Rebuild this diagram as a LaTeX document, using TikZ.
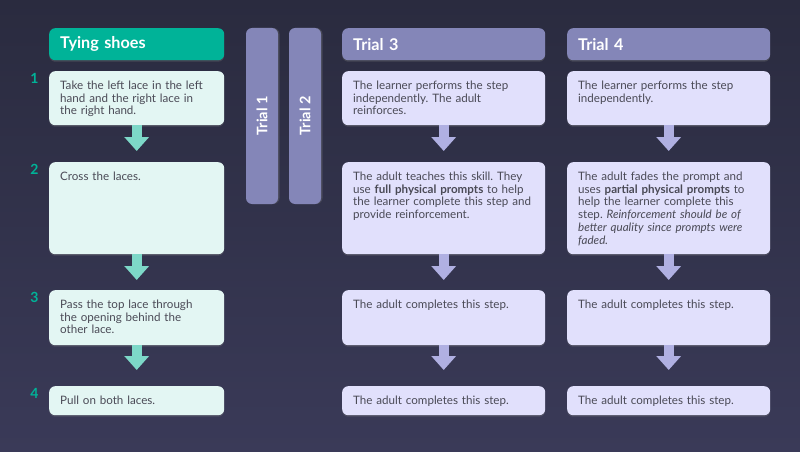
\documentclass[tikz,border=0pt]{standalone}
\usepackage{fontspec}
\setmainfont{Lato}
\usetikzlibrary{arrows.meta,shadows}

\definecolor{bgtop}{HTML}{2A2B3F}
\definecolor{bgbot}{HTML}{3A3A58}
\definecolor{tealdark}{HTML}{00B398}
\definecolor{tealpale}{HTML}{E3F6F3}
\definecolor{tealarrow}{HTML}{7DD8C8}
\definecolor{lilac}{HTML}{8486B8}
\definecolor{lilacpale}{HTML}{E1E0FC}
\definecolor{lilacarrow}{HTML}{B0B0E2}
\definecolor{txt}{HTML}{4A4A56}

\frenchspacing
\begin{document}
\begin{tikzpicture}[x=1pt, y=-1pt,
    box/.style={rounded corners=6pt, anchor=north west, align=left,
      inner xsep=11pt, inner ysep=8pt, text height=10pt, text=txt,
      font=\fontsize{11.6}{12.8}\selectfont,
      drop shadow={opacity=0.3, shadow xshift=0pt, shadow yshift=-1.5pt}},
    tealbox/.style={box, fill=tealpale, text width=153pt},
    lilacbox/.style={box, fill=lilacpale, text width=181pt},
    header/.style={rounded corners=6pt, anchor=north west, align=left,
      inner xsep=11pt, inner ysep=0pt, minimum height=32pt, text=white,
      font=\fontsize{16.2}{18}\selectfont\bfseries,
      drop shadow={opacity=0.3, shadow xshift=0pt, shadow yshift=-1.5pt}},
    trialbar/.style={rotate=90, rounded corners=6pt, fill=lilac, text=white,
      minimum width=176pt, minimum height=32pt, inner sep=0pt,
      font=\fontsize{14.5}{16}\selectfont\bfseries,
      drop shadow={opacity=0.3, shadow xshift=1.5pt, shadow yshift=0pt}},
    num/.style={anchor=base, text=tealdark, font=\fontsize{14}{16}\selectfont\bfseries},
    tealarr/.style={draw=tealarrow, line width=10pt, -{Triangle[width=24pt,length=14pt]}},
    lilacarr/.style={draw=lilacarrow, line width=10pt, -{Triangle[width=24pt,length=14pt]}}]

  % Background
  \shade[top color=bgtop, bottom color=bgbot] (0,0) rectangle (800,452);
  \useasboundingbox (0,0) rectangle (800,452);

  % Headers
  \node[header, fill=tealdark, text width=153pt] (h1) at (49,28) {Tying shoes};
  \node[header, fill=lilac, text width=181pt] (h3) at (342,28) {Trial 3};
  \node[header, fill=lilac, text width=181pt] (h4) at (567,28) {Trial 4};
  \node[trialbar] (t1) at (262,116) {Trial 1};
  \node[trialbar] (t2) at (305,116) {Trial 2};

  % Steps
  \node[num] (n1) at (34.5,83) {1};
  \node[num] (n2) at (34.5,174) {2};
  \node[num] (n3) at (34.5,302) {3};
  \node[num] (n4) at (34.5,398) {4};

  \node[tealbox, text depth=28pt] (s1) at (49,71)
    {Take the left lace in the left\\hand and the right lace in\\the right hand.};
  \node[tealbox, text depth=66pt] (s2) at (49,162) {Cross the laces.};
  \node[tealbox, text depth=29pt] (s3) at (49,290)
    {Pass the top lace through\\the opening behind the\\other lace.};
  \node[tealbox, text depth=3pt] (s4) at (49,386) {Pull on both laces.};

  % Trial 3
  \node[lilacbox, text depth=28pt] (a1) at (342,71)
    {The learner performs the step\\independently. The adult\\reinforces.};
  \node[lilacbox, text depth=66pt] (a2) at (342,162)
    {The adult teaches this skill. They\\use \textbf{full physical prompts} to help\\the learner complete this step and\\provide reinforcement.};
  \node[lilacbox, text depth=29pt] (a3) at (342,290) {The adult completes this step.};
  \node[lilacbox, text depth=3pt] (a4) at (342,386) {The adult completes this step.};

  % Trial 4
  \node[lilacbox, text depth=28pt] (b1) at (567,71)
    {The learner performs the step\\independently.};
  \node[lilacbox, text depth=66pt] (b2) at (567,162)
    {The adult fades the prompt and\\uses \textbf{partial physical prompts} to\\help the learner complete this\\step. \textit{Reinforcement should be of}\\\textit{better quality since prompts were}\\\textit{faded.}};
  \node[lilacbox, text depth=29pt] (b3) at (567,290) {The adult completes this step.};
  \node[lilacbox, text depth=3pt] (b4) at (567,386) {The adult completes this step.};

  % Arrows
  \draw[tealarr, shorten >=11pt] (s1.south) -- (s2.north);
  \draw[tealarr, shorten >=10pt] (s2.south) -- (s3.north);
  \draw[tealarr, shorten >=16pt] (s3.south) -- (s4.north);
  \draw[lilacarr, shorten >=11pt] (a1.south) -- (a2.north);
  \draw[lilacarr, shorten >=10pt] (a2.south) -- (a3.north);
  \draw[lilacarr, shorten >=16pt] (a3.south) -- (a4.north);
  \draw[lilacarr, shorten >=11pt] (b1.south) -- (b2.north);
  \draw[lilacarr, shorten >=10pt] (b2.south) -- (b3.north);
  \draw[lilacarr, shorten >=16pt] (b3.south) -- (b4.north);
\end{tikzpicture}
\end{document}
